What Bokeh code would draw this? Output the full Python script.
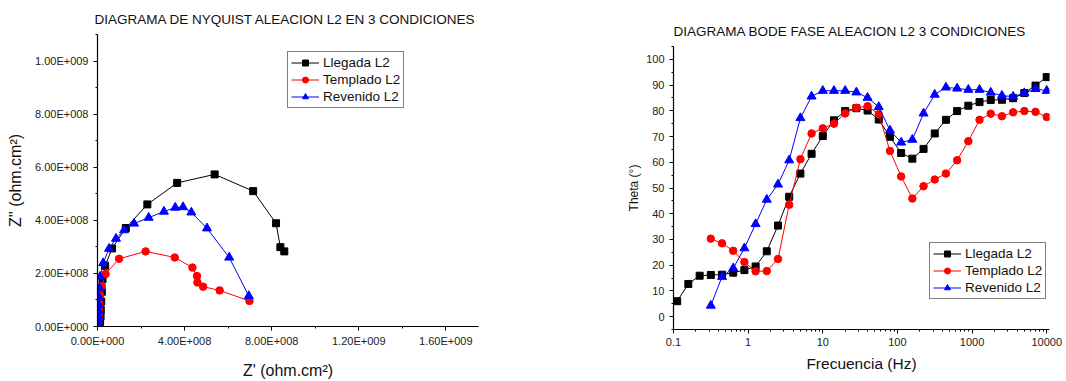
from bokeh.plotting import figure
from bokeh.layouts import row
from bokeh.models import FixedTicker, Legend, LegendItem, Range1d
from bokeh.embed import file_html
from bokeh.resources import INLINE

# ---- Nyquist data (Z' and Z'' in ohm.cm2), low frequency first ----
llegada_zre = [8.58e8, 8.40e8, 8.20e8, 7.15e8, 5.38e8, 3.66e8, 2.29e8, 1.30e8, 6.7e7,
               3.5e7, 2.3e7, 2.0e7, 1.7e7, 1.5e7, 1.4e7, 1.2e7, 1.0e7, 8.0e6]
llegada_zim = [2.83e8, 2.99e8, 3.89e8, 5.10e8, 5.73e8, 5.41e8, 4.60e8, 3.71e8, 2.94e8,
               2.29e8, 1.78e8, 1.31e8, 9.4e7, 6.3e7, 3.8e7, 1.9e7, 8.0e6, 2.0e6]

templado_zre = [6.98e8, 5.61e8, 4.85e8, 4.59e8, 4.57e8, 4.36e8, 3.55e8, 2.21e8, 9.9e7,
                3.7e7, 2.0e7, 1.2e7, 8.0e6, 6.0e6, 5.0e6, 4.0e6, 3.0e6]
templado_zim = [9.6e7, 1.36e8, 1.50e8, 1.66e8, 1.90e8, 2.22e8, 2.60e8, 2.83e8, 2.55e8,
                1.98e8, 1.52e8, 1.18e8, 8.8e7, 6.2e7, 4.1e7, 2.4e7, 1.2e7]

revenido_zre = [6.95e8, 6.05e8, 5.03e8, 4.31e8, 3.93e8, 3.57e8, 3.05e8, 2.35e8, 1.68e8,
                1.22e8, 8.5e7, 5.3e7, 2.6e7, 1.2e7, 9.0e6, 7.0e6, 6.0e6, 5.0e6, 4.0e6,
                3.5e6, 3.0e6, 2.5e6]
revenido_zim = [1.15e8, 2.60e8, 3.70e8, 4.30e8, 4.50e8, 4.48e8, 4.33e8, 4.10e8, 3.88e8,
                3.63e8, 3.31e8, 2.93e8, 2.39e8, 1.88e8, 1.45e8, 1.10e8, 8.2e7, 5.8e7,
                3.8e7, 2.2e7, 1.1e7, 4.0e6]

# ---- Bode phase data ----
freq_llegada = [0.112, 0.158, 0.224, 0.316, 0.447, 0.631, 0.891, 1.259, 1.778, 2.512,
                3.548, 5.012, 7.079, 10.0, 14.13, 19.95, 28.18, 39.81, 56.23, 79.43,
                112.2, 158.5, 223.9, 316.2, 446.7, 631.0, 891.3, 1259.0, 1778.0, 2512.0,
                3548.0, 5012.0, 7079.0, 10000.0]
theta_llegada = [6.0, 12.7, 15.9, 16.2, 16.3, 17.1, 18.1, 19.5, 25.4, 35.4,
                 46.6, 55.6, 63.3, 70.2, 76.3, 79.9, 81.0, 80.1, 76.6, 69.9,
                 63.6, 61.4, 65.2, 71.2, 76.5, 79.9, 82.0, 83.4, 84.2, 84.3,
                 84.9, 86.9, 89.8, 93.1]

freq_tr = [0.316, 0.447, 0.631, 0.891, 1.259, 1.778, 2.512, 3.548, 5.012, 7.079,
           10.0, 14.13, 19.95, 28.18, 39.81, 56.23, 79.43, 112.2, 158.5, 223.9,
           316.2, 446.7, 631.0, 891.3, 1259.0, 1778.0, 2512.0, 3548.0, 5012.0, 7079.0,
           10000.0]
theta_templado = [30.3, 28.5, 25.6, 21.2, 17.6, 17.7, 22.4, 43.5, 61.2, 71.2,
                  73.2, 75.0, 79.0, 81.2, 81.8, 78.7, 64.4, 54.5, 45.9, 50.7,
                  53.3, 55.6, 60.8, 68.2, 76.5, 78.9, 77.9, 79.4, 79.9, 79.6,
                  77.6]
theta_revenido = [4.3, 15.5, 18.8, 26.6, 36.0, 45.5, 51.4, 60.8, 77.2, 85.6,
                  87.8, 87.8, 87.8, 87.2, 85.1, 81.5, 72.4, 67.7, 68.8, 79.0,
                  86.3, 89.1, 88.7, 88.2, 88.2, 87.1, 85.9, 85.5, 86.9, 88.5,
                  87.8]

series_names = ["Llegada L2", "Templado L2", "Revenido L2"]
series_colors = ["#000000", "#FF0000", "#0000FF"]
series_markers = ["square", "circle", "triangle"]
marker_sizes = [7, 7.5, 9]

nyq_title = "DIAGRAMA DE NYQUIST ALEACION L2 EN 3 CONDICIONES"
bode_title = "DIAGRAMA BODE FASE ALEACION L2 3 CONDICIONES"

nyq_xticks = [0, 4e8, 8e8, 1.2e9, 1.6e9]
nyq_yticks = [0, 2e8, 4e8, 6e8, 8e8, 1e9]
bode_xticks = [0.1, 1, 10, 100, 1000, 10000]
bode_yticks = [0, 10, 20, 30, 40, 50, 60, 70, 80, 90, 100]

FONT = "Liberation Sans"


def origin_sci(v):
    """Format like 4.00E+008."""
    if v == 0:
        return "0.00E+000"
    exp = 0
    m = float(v)
    while abs(m) >= 10:
        m /= 10
        exp += 1
    while abs(m) < 1:
        m *= 10
        exp -= 1
    sign = "+" if exp >= 0 else "-"
    return f"{m:.2f}E{sign}{abs(exp):03d}"


def style_axes(p, title_offset, title_standoff):
    for ax in (p.xaxis[0], p.yaxis[0]):
        ax.axis_line_color = "#000000"
        ax.axis_line_width = 1.2
        ax.major_tick_line_color = "#000000"
        ax.minor_tick_line_color = "#000000"
        ax.major_tick_in = 0
        ax.major_tick_out = 4
        ax.minor_tick_in = 0
        ax.minor_tick_out = 2
        ax.major_label_text_font = FONT
        ax.major_label_text_font_size = "11px"
        ax.major_label_text_color = "#222222"
        ax.axis_label_text_font = FONT
        ax.axis_label_text_font_style = "normal"
        ax.axis_label_text_color = "#111111"
    p.xaxis.major_label_standoff = 4
    p.xgrid.visible = False
    p.ygrid.visible = False
    p.outline_line_color = None
    p.frame_align = False
    p.title.text_font = FONT
    p.title.text_font_style = "normal"
    p.title.text_font_size = "13.5px"
    p.title.text_color = "#111111"
    p.title.align = "left"
    p.title.offset = title_offset
    p.title.standoff = title_standoff


def add_legend(p, items, loc):
    leg = Legend(items=items, location=loc)
    leg.label_text_font = FONT
    leg.label_text_font_size = "13.5px"
    leg.label_text_color = "#111111"
    leg.glyph_width = 28
    leg.glyph_height = 15
    leg.label_height = 15
    leg.label_standoff = 4
    leg.spacing = 2
    leg.padding = 3
    leg.margin = 0
    leg.border_line_color = "#000000"
    leg.border_line_width = 1.2
    leg.background_fill_color = "#FFFFFF"
    leg.background_fill_alpha = 1.0
    p.add_layout(leg)


# ---------------- Nyquist ----------------
p1 = figure(width=533, height=381, output_backend="svg", toolbar_location=None,
            x_range=Range1d(0, 1.75e9), y_range=Range1d(0, 1.1e9),
            title=nyq_title,
            min_border_left=97, min_border_right=55, min_border_top=34,
            min_border_bottom=54)
style_axes(p1, -3, 15)
p1.xaxis.ticker = FixedTicker(ticks=nyq_xticks,
                              minor_ticks=[t + 2e8 for t in nyq_xticks])
p1.yaxis.ticker = FixedTicker(ticks=nyq_yticks,
                              minor_ticks=[t + 1e8 for t in nyq_yticks])
p1.xaxis.major_label_overrides = {t: origin_sci(t) for t in nyq_xticks}
p1.yaxis.major_label_overrides = {t: origin_sci(t) for t in nyq_yticks}
p1.xaxis.axis_label = "Z' (ohm.cm²)"
p1.yaxis.axis_label = "Z'' (ohm.cm²)"
p1.xaxis.axis_label_text_font_size = "16px"
p1.yaxis.axis_label_text_font_size = "16px"
p1.xaxis.axis_label_standoff = 12
p1.yaxis.axis_label_standoff = 8

nyq = [(llegada_zre, llegada_zim), (templado_zre, templado_zim),
       (revenido_zre, revenido_zim)]
items1 = []
for (xs, ys), name, col, mk, sz in zip(nyq, series_names, series_colors,
                                       series_markers, marker_sizes):
    rl = p1.line(xs, ys, line_color=col, line_width=1)
    rs = p1.scatter(xs, ys, marker=mk, size=sz, fill_color=col, line_color=col)
    items1.append(LegendItem(label=name, renderers=[rl, rs]))
add_legend(p1, items1, (190, 218))

# ---------------- Bode phase ----------------
p2 = figure(width=533, height=381, output_backend="svg", toolbar_location=None,
            x_axis_type="log", x_range=Range1d(0.1, 10900),
            y_range=Range1d(-5, 105),
            title=bode_title,
            min_border_left=140, min_border_right=17, min_border_top=46,
            min_border_bottom=52)
style_axes(p2, 0, 16)
log_minor = [k * t for t in bode_xticks[:-1] for k in range(2, 10)]
p2.xaxis.ticker = FixedTicker(ticks=bode_xticks, minor_ticks=log_minor)
p2.xaxis.major_label_overrides = {t: str(t) for t in bode_xticks}
p2.yaxis.ticker = FixedTicker(ticks=bode_yticks,
                              minor_ticks=[t - 5 for t in bode_yticks] + [105])
p2.yaxis.major_label_overrides = {t: str(t) for t in bode_yticks}
p2.xaxis.axis_label = "Frecuencia (Hz)"
p2.yaxis.axis_label = "Theta (°)"
p2.xaxis.axis_label_text_font_size = "15.5px"
p2.yaxis.axis_label_text_font_size = "12px"
p2.xaxis.axis_label_standoff = 6
p2.yaxis.axis_label_standoff = 2

bode = [(freq_llegada, theta_llegada), (freq_tr, theta_templado),
        (freq_tr, theta_revenido)]
items2 = []
for (xs, ys), name, col, mk, sz in zip(bode, series_names, series_colors,
                                       series_markers, marker_sizes):
    rl = p2.line(xs, ys, line_color=col, line_width=1)
    rs = p2.scatter(xs, ys, marker=mk, size=sz, fill_color=col, line_color=col)
    items2.append(LegendItem(label=name, renderers=[rl, rs]))
add_legend(p2, items2, (256, 30))

layout = row(p1, p2, spacing=0)
open("out.html", "w").write(file_html(layout, INLINE))
